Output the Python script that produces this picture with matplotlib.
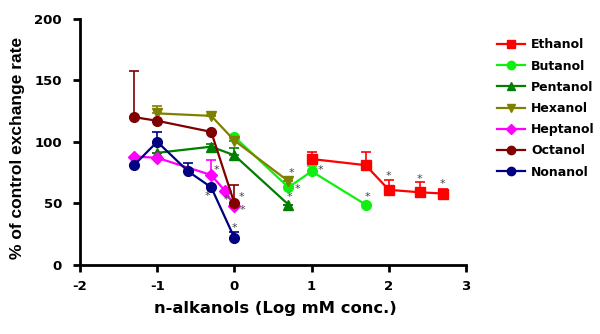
import matplotlib
matplotlib.use("Agg")
import matplotlib.pyplot as plt
from matplotlib.lines import Line2D
import numpy as np

plt.rcParams['font.family'] = ['DejaVu Sans']
plt.rcParams['font.weight'] = 'bold'
plt.rcParams['axes.unicode_minus'] = False

names = ["Ethanol", "Butanol", "Pentanol", "Hexanol", "Heptanol", "Octanol", "Nonanol"]
colors = ["#FF0000", "#11EE11", "#007F00", "#808000", "#FF00FF", "#800000", "#000080"]
markers = ["s", "o", "^", "v", "D", "o", "o"]

x_eth = [1.0, 1.7, 2.0, 2.4, 2.7]
y_eth = [86, 81, 61, 59, 58]
e_eth = [6, 11, 8, 8, 4]
s_eth = [0, 0, 1, 1, 1]

x_but = [0.0, 0.7, 1.0, 1.7]
y_but = [104, 63, 76, 49]
e_but = [0, 0, 4, 0]
s_but = [0, 1, 1, 1]

x_pen = [-1.0, -0.3, 0.0, 0.7]
y_pen = [91, 96, 89, 49]
e_pen = [0, 2, 6, 0]
s_pen = [0, 0, 0, 1]

x_hex = [-1.0, -0.3, 0.0, 0.7]
y_hex = [123, 121, 101, 68]
e_hex = [6, 1, 0, 0]
s_hex = [0, 0, 0, 1]

x_hep = [-1.3, -1.0, -0.3, -0.12, 0.0]
y_hep = [88, 87, 73, 60, 48]
e_hep = [0, 0, 12, 0, 0]
s_hep = [0, 0, 1, 1, 1]

x_oct = [-1.3, -1.0, -0.3, 0.0]
y_oct = [120, 117, 108, 50]
e_oct = [37, 0, 0, 15]
s_oct = [0, 0, 0, 1]

x_non = [-1.3, -1.0, -0.6, -0.3, 0.0]
y_non = [81, 100, 76, 63, 22]
e_non = [0, 8, 7, 2, 5]
s_non = [0, 0, 0, 1, 1]

xs = [x_eth, x_but, x_pen, x_hex, x_hep, x_oct, x_non]
ys = [y_eth, y_but, y_pen, y_hex, y_hep, y_oct, y_non]
es = [e_eth, e_but, e_pen, e_hex, e_hep, e_oct, e_non]
ss = [s_eth, s_but, s_pen, s_hex, s_hep, s_oct, s_non]

# asterisk pixel offsets (style only)
star_off = {
    ("Ethanol", 2): (0, 14), ("Ethanol", 3): (0, 13), ("Ethanol", 4): (0, 10),
    ("Butanol", 1): (9, -2), ("Butanol", 2): (9, 1), ("Butanol", 3): (2, 8),
    ("Pentanol", 3): (1, 8),
    ("Hexanol", 3): (3, 8),
    ("Heptanol", 2): (5, 5), ("Heptanol", 3): (1, -9), ("Heptanol", 4): (8, -4),
    ("Octanol", 3): (7, 6),
    ("Nonanol", 3): (-4, -9), ("Nonanol", 4): (0, 10),
}

fig = plt.figure(figsize=(6.0, 3.34), dpi=100)
ax = fig.add_axes([80/600, 1-265/334, (466-80)/600, (265-18.5)/334])

handles = []
for n, c, m, x, y, e, s in zip(names, colors, markers, xs, ys, es, ss):
    e = np.array(e, dtype=float)
    ms = 6 if m == "D" else 7
    ax.errorbar(x, y, yerr=[np.zeros_like(e), e], color=c, marker=m, markersize=ms,
                linewidth=1.6, elinewidth=1.2, capsize=3.3, capthick=1.2,
                markeredgecolor=c)
    handles.append(Line2D([], [], color=c, marker=m, markersize=ms - 1,
                          linewidth=1.6, markeredgecolor=c, label=n))
    for i, flag in enumerate(s):
        if flag:
            dx, dy = star_off.get((n, i), (6, 6))
            ax.annotate("*", (x[i], y[i]), xytext=(dx, dy), textcoords="offset pixels",
                        ha="center", va="center", fontsize=8, color="#444444",
                        fontweight="normal")

ax.set_xlim(-2, 3)
ax.set_ylim(0, 200)
ax.set_xticks([-2, -1, 0, 1, 2, 3])
ax.set_yticks([0, 50, 100, 150, 200])
ax.spines['top'].set_visible(False)
ax.spines['right'].set_visible(False)
for sp in ['left', 'bottom']:
    ax.spines[sp].set_linewidth(2)
ax.tick_params(axis='x', direction='out', width=2, length=5, labelsize=9.5, pad=6)
ax.tick_params(axis='y', direction='out', width=2, length=5, labelsize=9.5, pad=8)
for lab in ax.get_xticklabels() + ax.get_yticklabels():
    lab.set_fontweight('bold')
ax.set_xlabel("n-alkanols (Log mM conc.)", fontsize=11.8, fontweight='bold')
ax.xaxis.set_label_coords(0.507, -0.175)
ax.set_ylabel("% of control exchange rate", fontsize=12.5, fontweight='bold',
              family=['Liberation Sans', 'DejaVu Sans'])
ax.yaxis.set_label_coords(-0.163, 0.475)
ax.yaxis.label.set_verticalalignment('center')
ax.xaxis.label.set_verticalalignment('center')

fig.legend(handles=handles, loc='upper left', bbox_to_anchor=(486/600, 1-27/334), frameon=False,
           prop={'weight': 'bold', 'size': 9}, labelspacing=0.66, handlelength=2.2,
           handletextpad=0.5)

fig.savefig("out.png", dpi=100)
